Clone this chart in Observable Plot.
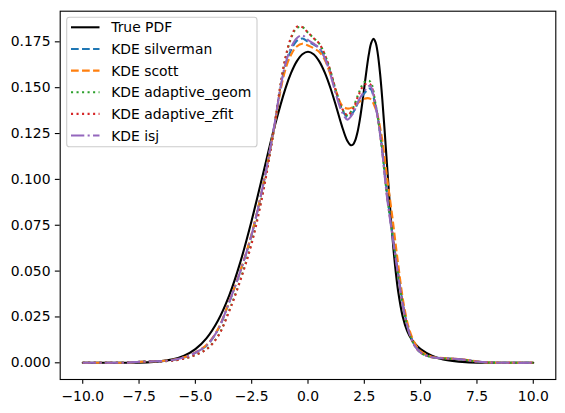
<!DOCTYPE html>
<html><head><meta charset="utf-8">
<script src="https://cdn.jsdelivr.net/npm/d3@7"></script>
<script src="https://cdn.jsdelivr.net/npm/@observablehq/plot@0.6"></script>
<style>body{margin:0;background:#fff} svg{font-family:"DejaVu Sans",sans-serif}</style>
</head><body><div id="chart"></div><script>
// True PDF sample points
const xTrue = [-10,-9,-8,-7,-6,-5.5,-5,-4.5,-4,-3.5,-3,-2.5,-2,-1.5,-1,-0.75,-0.5,-0.25,0,0.25,0.5,0.75,1,1.25,1.5,1.75,1.9,2,2.1,2.2,2.3,2.4,2.5,2.6,2.7,2.8,2.9,3,3.1,3.2,3.3,3.4,3.5,3.6,3.7,3.8,3.9,4,4.2,4.4,4.6,4.8,5,5.5,6,7,8,9,10];
const yTrue = [0,0.00001,0.00006,0.00037,0.00188,0.00387,0.00745,0.01349,0.02295,0.03667,0.05505,0.07763,0.10284,0.12799,0.14964,0.15805,0.16434,0.16824,0.16956,0.16824,0.16434,0.15805,0.14968,0.13974,0.12932,0.12088,0.11862,0.11904,0.12140,0.12587,0.13245,0.14080,0.15022,0.15974,0.16813,0.17412,0.17659,0.17473,0.16832,0.15762,0.14343,0.12687,0.10926,0.09182,0.07555,0.06116,0.04901,0.03915,0.02542,0.01745,0.01276,0.00970,0.00749,0.00387,0.00188,0.00037,0.00006,0.00001,0];

// KDE sample points (shared x grid)
const xKde = [-10,-9,-8,-7.5,-7,-6.5,-6,-5.5,-5,-4.5,-4,-3.5,-3,-2.5,-2,-1.5,-1.25,-1,-0.75,-0.5,-0.25,0,0.25,0.5,0.75,1,1.25,1.5,1.75,2,2.25,2.5,2.75,3,3.25,3.5,3.75,4,4.25,4.5,4.75,5,5.5,6,6.5,7,7.5,8,9,10];
const kdeSilverman = [0,0,0.0001,0.0005,0.0008,0.0009,0.0015,0.0029,0.0055,0.0095,0.0180,0.0330,0.0500,0.0700,0.0965,0.1290,0.1475,0.1620,0.1705,0.1755,0.1768,0.1750,0.1735,0.1715,0.1665,0.1580,0.1475,0.1385,0.1340,0.1365,0.1425,0.1470,0.1495,0.1400,0.1210,0.0930,0.0700,0.0490,0.0295,0.0165,0.0093,0.0057,0.0031,0.0025,0.0022,0.0016,0.0007,0.0002,0,0];
const kdeScott = [0,0,0.0001,0.0005,0.0008,0.0010,0.0016,0.0030,0.0057,0.0098,0.0183,0.0333,0.0503,0.0703,0.0965,0.1285,0.1465,0.1600,0.1680,0.1725,0.1740,0.1730,0.1715,0.1695,0.1650,0.1570,0.1480,0.1405,0.1386,0.1395,0.1420,0.1440,0.1440,0.1385,0.1250,0.1020,0.0790,0.0540,0.0320,0.0180,0.0105,0.0063,0.0033,0.0026,0.0022,0.0017,0.0008,0.0002,0,0];
const kdeAdaptiveGeom = [0,0,0.0001,0.0004,0.0007,0.0008,0.0012,0.0023,0.0043,0.0075,0.0145,0.0285,0.0455,0.0660,0.0935,0.1280,0.1490,0.1660,0.1770,0.1825,0.1830,0.1800,0.1770,0.1740,0.1680,0.1590,0.1480,0.1390,0.1350,0.1390,0.1470,0.1530,0.1535,0.1410,0.1200,0.0920,0.0700,0.0480,0.0290,0.0160,0.0090,0.0055,0.0030,0.0024,0.0021,0.0015,0.0006,0.0002,0,0];
const kdeAdaptiveZfit = [0,0,0.0001,0.0004,0.0007,0.0008,0.0012,0.0023,0.0043,0.0074,0.0143,0.0280,0.0450,0.0650,0.0925,0.1280,0.1495,0.1665,0.1775,0.1832,0.1830,0.1800,0.1770,0.1740,0.1680,0.1590,0.1478,0.1390,0.1350,0.1385,0.1460,0.1515,0.1520,0.1405,0.1200,0.0920,0.0700,0.0480,0.0290,0.0160,0.0090,0.0055,0.0030,0.0024,0.0021,0.0015,0.0006,0.0002,0,0];
const kdeIsj = [0,0,0.0001,0.0006,0.0008,0.0009,0.0015,0.0029,0.0055,0.0095,0.0180,0.0330,0.0500,0.0700,0.0965,0.1290,0.1480,0.1630,0.1720,0.1770,0.1785,0.1760,0.1740,0.1715,0.1660,0.1570,0.1460,0.1370,0.1326,0.1360,0.1430,0.1480,0.1510,0.1400,0.1200,0.0910,0.0690,0.0480,0.0290,0.0160,0.0090,0.0055,0.0030,0.0025,0.0022,0.0016,0.0007,0.0002,0,0];

const seriesNames = ["True PDF","KDE silverman","KDE scott","KDE adaptive_geom","KDE adaptive_zfit","KDE isj"];
const xTicks = [-10,-7.5,-5,-2.5,0,2.5,5,7.5,10];
const yTicks = [0,0.025,0.05,0.075,0.1,0.125,0.15,0.175];

const styles = [
  {color:"#000000", dash:null},
  {color:"#1f77b4", dash:"7.7,3.33"},
  {color:"#ff7f0e", dash:"7.7,3.33"},
  {color:"#2ca02c", dash:"2.08,3.44"},
  {color:"#d62728", dash:"2.08,3.44"},
  {color:"#9467bd", dash:"13.3,3.33,2.08,3.33"}
];

const kdeSeries = [kdeSilverman, kdeScott, kdeAdaptiveGeom, kdeAdaptiveZfit, kdeIsj];
const trueData = xTrue.map((x,i)=>({x, y:yTrue[i]}));
const kdeData = kdeSeries.map(arr => xKde.map((x,i)=>({x, y:arr[i]})));

const W = 565, H = 413;
const marks = [
  Plot.line(trueData, {x:"x", y:"y", stroke:styles[0].color, strokeWidth:2.08, curve:"catmull-rom"})
];
kdeData.forEach((d,k)=>{
  marks.push(Plot.line(d, {x:"x", y:"y", stroke:styles[k+1].color, strokeWidth:2.08, strokeDasharray:styles[k+1].dash, strokeLinecap:"butt", curve:"catmull-rom"}));
});
marks.push(Plot.frame({stroke:"black", strokeWidth:1.1}));
marks.push(Plot.axisX({ticks:xTicks, tickFormat:d3.format(".1f"), tickSize:4.86, tickPadding:6.8, stroke:"black", strokeWidth:1.1, fill:"black", label:null}));
marks.push(Plot.axisY({ticks:yTicks, tickFormat:d3.format(".3f"), tickSize:4.86, tickPadding:4.86, stroke:"black", strokeWidth:1.1, fill:"black", label:null}));

const chart = Plot.plot({
  width:W, height:H,
  marginLeft:59.7, marginRight:9.7, marginTop:10.7, marginBottom:34,
  x:{domain:[-11,11]},
  y:{domain:[-0.0091,0.1917]},
  style:{fontFamily:"DejaVu Sans, sans-serif", fontSize:"13.9px", color:"black", background:"white"},
  marks
});
document.getElementById("chart").appendChild(chart);

// Legend (matplotlib style, upper left)
const svg = d3.select(chart);
const lg = svg.append("g").attr("text-anchor","start");
lg.append("rect").attr("x",66.7).attr("y",17.3).attr("width",190.3).attr("height",129.4)
  .attr("rx",2.8).attr("fill","white").attr("fill-opacity",0.8).attr("stroke","#cccccc").attr("stroke-width",1.1);
seriesNames.forEach((name,i)=>{
  const cy = 27.3 + i*21.65;
  lg.append("line").attr("x1",71).attr("x2",99.5).attr("y1",cy).attr("y2",cy)
    .attr("stroke",styles[i].color).attr("stroke-width",2.08)
    .attr("stroke-dasharray",styles[i].dash).attr("stroke-linecap","butt");
  lg.append("text").attr("x",111.2).attr("y",cy).attr("dy","0.36em")
    .attr("text-anchor","start").attr("font-size","13.9px").attr("fill","black").text(name);
});
</script></body></html>
